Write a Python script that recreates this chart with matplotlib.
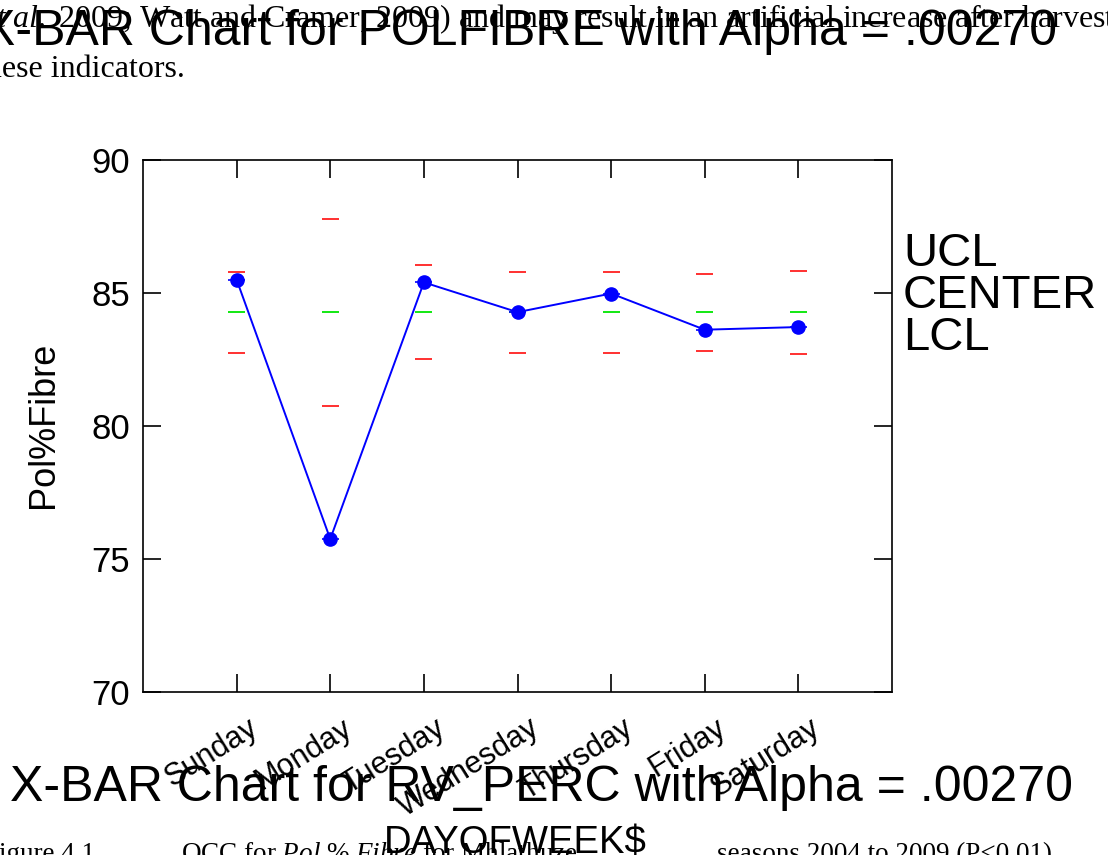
import matplotlib
matplotlib.use("Agg")
import matplotlib.pyplot as plt
from matplotlib.transforms import ScaledTranslation
import numpy as np

# X-bar chart data (Pol % Fibre by day of week)
days = ["Sunday", "Monday", "Tuesday", "Wednesday", "Thursday", "Friday", "Saturday"]
pol_fibre_mean = [85.50, 75.75, 85.40, 84.28, 84.98, 83.62, 83.72]
center_line = [84.27, 84.27, 84.27, 84.27, 84.27, 84.27, 84.27]
ucl = [85.78, 87.80, 86.05, 85.80, 85.80, 85.73, 85.84]
lcl = [82.76, 80.75, 82.50, 82.74, 82.74, 82.82, 82.71]
y_ticks = [70, 75, 80, 85, 90]

W, H = 1108, 855
plt.rcParams['font.family'] = ['Liberation Sans', 'DejaVu Sans']
plt.rcParams['mathtext.fontset'] = 'custom'
plt.rcParams['mathtext.rm'] = 'Liberation Serif'
plt.rcParams['mathtext.it'] = 'Liberation Serif:italic'

fig = plt.figure(figsize=(W / 100, H / 100), dpi=100)
ax = fig.add_axes([143 / W, 1 - 692 / H, (892 - 143) / W, (692 - 160) / H])


def px(xp, yp):
    return xp / W, 1 - yp / H


x = np.arange(1, len(days) + 1)
half = 0.09
ax.hlines(ucl, x - half, x + half, colors='#ff2020', lw=1.3)
ax.hlines(lcl, x - half, x + half, colors='#ff2020', lw=1.3)
ax.hlines(center_line, x - half, x + half, colors='#00e600', lw=1.3)
ax.hlines(pol_fibre_mean, x - half, x + half, colors='#0000ff', lw=1.2)
ax.plot(x, pol_fibre_mean, color='#0000ff', lw=1.4, marker='o', ms=9.5, zorder=3)

ax.set_xlim(0, 8)
ax.set_ylim(70, 90)
ax.set_xticks(x)
ax.set_yticks(y_ticks)
ax.tick_params(direction='in', length=13, width=1.2, top=True, right=True,
               labelbottom=False, labelsize=25, pad=9.5, colors='black')
for s in ax.spines.values():
    s.set_linewidth(1.2)

# rotated day labels
offset = ScaledTranslation(0.11, -0.21, fig.dpi_scale_trans)
for xi, d in zip(x, days):
    ax.text(xi, 0, d, transform=ax.get_xaxis_transform() + offset, rotation=32,
            rotation_mode='anchor', ha='right', va='top', fontsize=22)

# axis titles
fig.text(*px(44, 425), "Pol%Fibre", rotation=90, ha='center', va='center', fontsize=26)
fig.text(*px(515, 853), "DAYOFWEEK$", ha='center', va='baseline', fontsize=27.5)

# control-limit legend
for lab, yb in zip(["UCL", "CENTER", "LCL"], [266, 308, 350]):
    fig.text(*px(903, yb), lab, ha='left', va='baseline', fontsize=34)

# chart titles
fig.text(*px(-18, 45), "X-BAR Chart for POLFIBRE with Alpha = .00270",
         ha='left', va='baseline', fontsize=36)
fig.text(*px(10, 801), "X-BAR Chart for RV_PERC with Alpha = .00270",
         ha='left', va='baseline', fontsize=36)

# surrounding document text
serif = ['Liberation Serif', 'DejaVu Serif']
fig.text(*px(-18, 27), r"$\mathit{et\ al.}$ 2009; Watt and Cramer, 2009) and may result in an artificial increase after harvest",
         ha='left', va='baseline', fontsize=23, family=serif)
fig.text(*px(-23, 77), "these indicators.", ha='left', va='baseline', fontsize=23, family=serif)
fig.text(*px(-16, 861), "Figure 4.1", ha='left', va='baseline', fontsize=19.5, family=serif)
fig.text(*px(181, 861), r"OCC for $\mathit{Pol\ \%\ Fibre}$ for Mhlathuze",
         ha='left', va='baseline', fontsize=19.5, family=serif, zorder=0)
fig.text(*px(717, 861), "seasons 2004 to 2009 (P<0.01)",
         ha='left', va='baseline', fontsize=19.5, family=serif, zorder=0)

fig.savefig("out.png", dpi=100)
